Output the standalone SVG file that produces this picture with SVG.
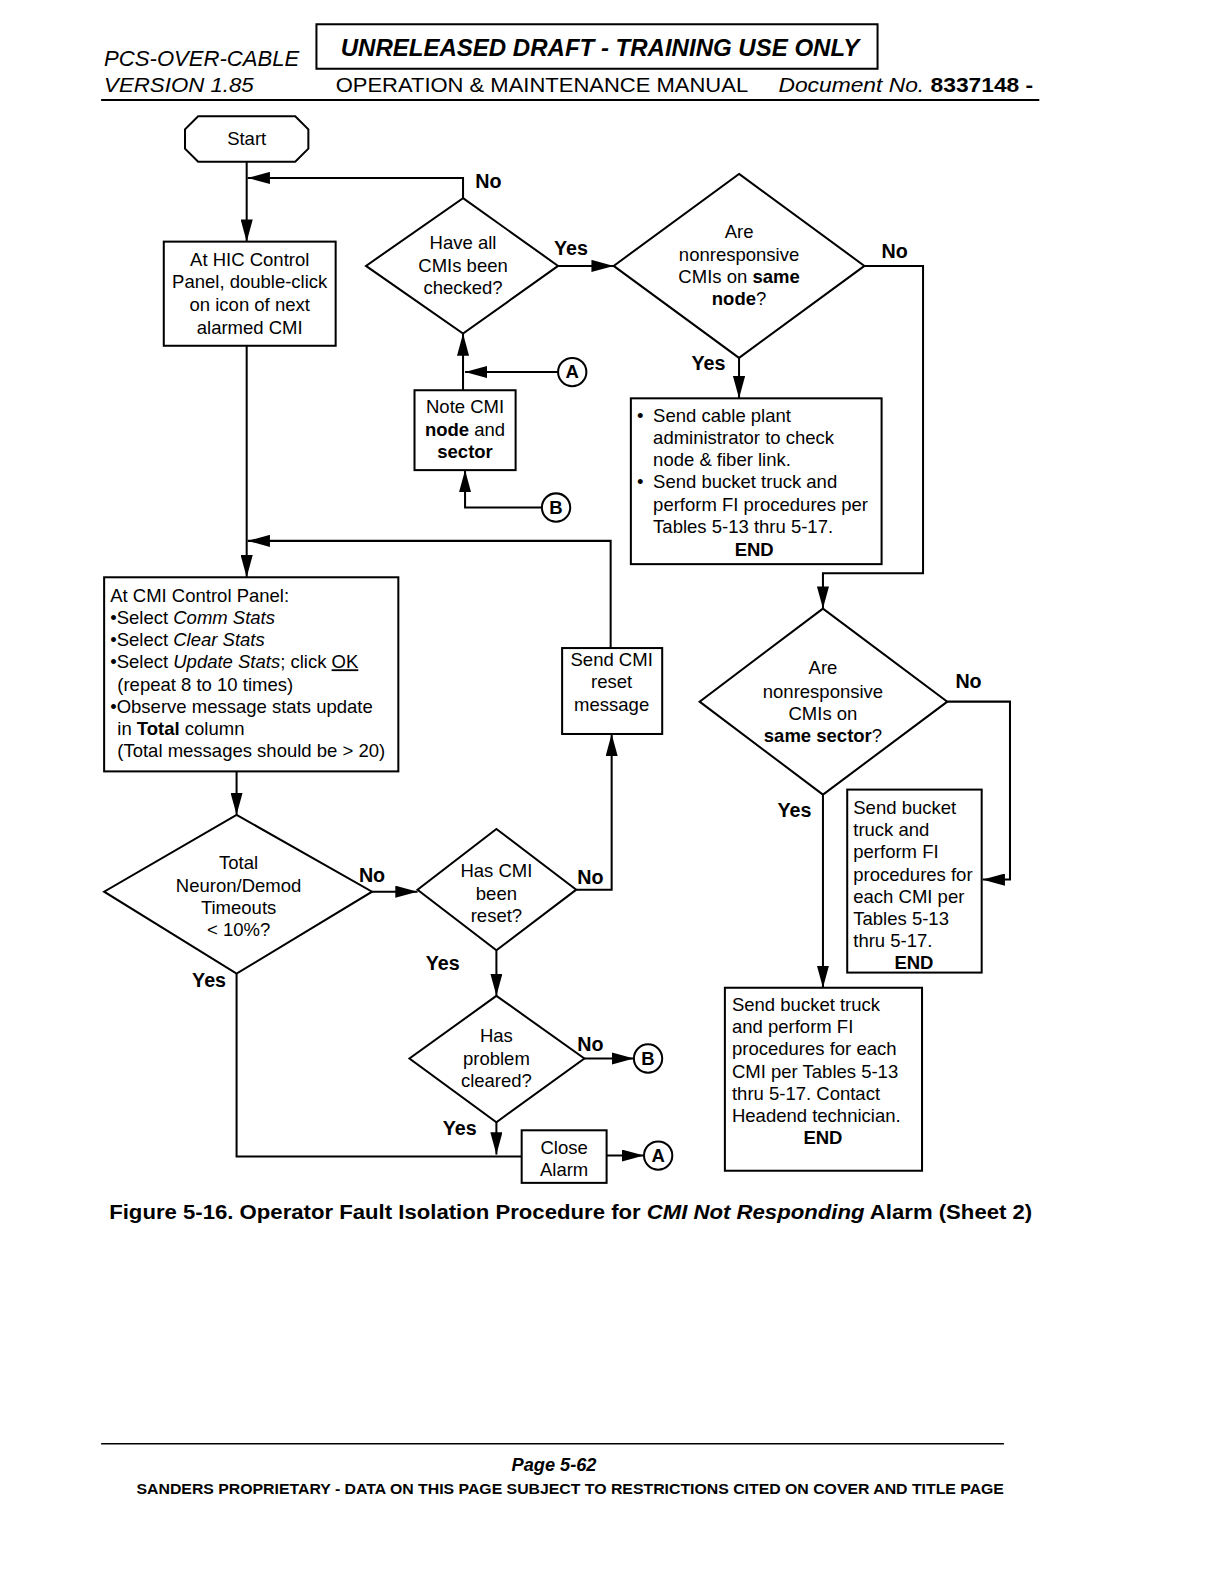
<svg xmlns="http://www.w3.org/2000/svg" width="1221" height="1584" viewBox="0 0 1221 1584">
<style>
text{font-family:"Liberation Sans",Arial,sans-serif;fill:#000}
.t{font-size:18.3px}
.c{text-anchor:middle}
.b{font-weight:bold}
.i{font-style:italic}
.lbl{font-size:19.5px;font-weight:bold}
.shape{fill:#fff;stroke:#000;stroke-width:2}
.ln{fill:none;stroke:#000;stroke-width:2}
</style>
<defs>
<marker id="ah" viewBox="0 0 22 12" refX="22" refY="6" markerWidth="22" markerHeight="12" orient="auto" markerUnits="userSpaceOnUse"><path d="M0,0 L22,6 L0,12 z" fill="#000"/></marker>
</defs>
<rect width="1221" height="1584" fill="#fff"/>
<g transform="scale(1.011)">
<g id="header">
<text x="103" y="65" class="i" font-size="21" textLength="193" lengthAdjust="spacingAndGlyphs">PCS-OVER-CABLE</text>
<rect x="313" y="24" width="555" height="44" class="shape"/>
<text x="337" y="55" class="b i" font-size="23" textLength="513" lengthAdjust="spacingAndGlyphs">UNRELEASED DRAFT - TRAINING USE ONLY</text>
<text x="103" y="91" class="i" font-size="20" textLength="148" lengthAdjust="spacingAndGlyphs">VERSION 1.85</text>
<text x="332" y="91" font-size="20" textLength="408" lengthAdjust="spacingAndGlyphs">OPERATION &amp; MAINTENANCE MANUAL</text>
<text x="770" y="91" font-size="20" textLength="252" lengthAdjust="spacingAndGlyphs"><tspan class="i">Document No. </tspan><tspan class="b">8337148 -</tspan></text>
<line x1="100" y1="99" x2="1028" y2="99" class="ln"/>
</g>

<g id="connectors">
<path d="M244,160 V239" class="ln" marker-end="url(#ah)"/>
<path d="M458,197 V176 H245" class="ln" marker-end="url(#ah)"/>
<path d="M244,342 V571" class="ln" marker-end="url(#ah)"/>
<path d="M552,263 H607" class="ln" marker-end="url(#ah)"/>
<path d="M855,263 H913 V567 H814 V602" class="ln" marker-end="url(#ah)"/>
<path d="M731,354 V394" class="ln" marker-end="url(#ah)"/>
<path d="M458,386 V330" class="ln" marker-end="url(#ah)"/>
<path d="M552,368 H460" class="ln" marker-end="url(#ah)"/>
<path d="M536,502 H460 V465" class="ln" marker-end="url(#ah)"/>
<path d="M604,641 V535 H245" class="ln" marker-end="url(#ah)"/>
<path d="M234,763 V806" class="ln" marker-end="url(#ah)"/>
<path d="M368,882 H413" class="ln" marker-end="url(#ah)"/>
<path d="M570,880 H605 V726" class="ln" marker-end="url(#ah)"/>
<path d="M491,940 V985" class="ln" marker-end="url(#ah)"/>
<path d="M578,1047 H627" class="ln" marker-end="url(#ah)"/>
<path d="M491,1110 V1142" class="ln" marker-end="url(#ah)"/>
<path d="M234,963 V1144 H516" class="ln"/>
<path d="M600,1143 H637" class="ln" marker-end="url(#ah)"/>
<path d="M937,694 H999 V870 H972" class="ln" marker-end="url(#ah)"/>
<path d="M814,786 V977" class="ln" marker-end="url(#ah)"/>
<text x="470" y="186" class="lbl">No</text>
<text x="548" y="252" class="lbl">Yes</text>
<text x="872" y="255" class="lbl">No</text>
<text x="684" y="366" class="lbl">Yes</text>
<text x="355" y="872" class="lbl">No</text>
<text x="571" y="874" class="lbl">No</text>
<text x="421" y="959" class="lbl">Yes</text>
<text x="190" y="976" class="lbl">Yes</text>
<text x="571" y="1040" class="lbl">No</text>
<text x="438" y="1123" class="lbl">Yes</text>
<text x="945" y="681" class="lbl">No</text>
<text x="769" y="808" class="lbl">Yes</text>
</g>

<g id="start">
<path d="M196,115 H292 L305,128 V147 L292,160 H196 L183,147 V128 Z" class="shape"/>
<text x="244" y="143" class="t c">Start</text>
</g>

<g id="hic">
<rect x="162" y="239" width="170" height="103" class="shape"/>
<text class="t c"><tspan x="247" y="263">At HIC Control</tspan><tspan x="247" y="285">Panel, double-click</tspan><tspan x="247" y="308">on icon of next</tspan><tspan x="247" y="330">alarmed CMI</tspan></text>
</g>

<g id="d-checked">
<path d="M458,196 L552,263 L458,330 L362,263 Z" class="shape"/>
<text class="t c"><tspan x="458" y="246">Have all</tspan><tspan x="458" y="269">CMIs been</tspan><tspan x="458" y="291">checked?</tspan></text>
</g>

<g id="d-node">
<path d="M731,172 L855,263 L731,354 L607,263 Z" class="shape"/>
<text class="t c"><tspan x="731" y="235">Are</tspan><tspan x="731" y="258">nonresponsive</tspan><tspan x="731" y="280">CMIs on <tspan class="b">same</tspan></tspan><tspan x="731" y="302"><tspan class="b">node</tspan>?</tspan></text>
</g>

<g id="cable-plant">
<rect x="624" y="394" width="248" height="164" class="shape"/>
<text class="t"><tspan x="630" y="417">•</tspan><tspan x="646" y="417">Send cable plant</tspan><tspan x="646" y="439">administrator to check</tspan><tspan x="646" y="461">node &amp; fiber link.</tspan><tspan x="630" y="483">•</tspan><tspan x="646" y="483">Send bucket truck and</tspan><tspan x="646" y="505">perform FI procedures per</tspan><tspan x="646" y="527">Tables 5-13 thru 5-17.</tspan></text>
<text x="746" y="550" class="t c b">END</text>
</g>

<g id="note">
<rect x="410" y="386" width="100" height="79" class="shape"/>
<text class="t c"><tspan x="460" y="409">Note CMI</tspan><tspan x="460" y="431"><tspan class="b">node</tspan> and</tspan><tspan x="460" y="453" class="b">sector</tspan></text>
</g>

<g id="conn-a1">
<circle cx="566" cy="368" r="14" class="shape"/>
<text x="566" y="374" class="t c b" font-size="16">A</text>
</g>
<g id="conn-b1">
<circle cx="550" cy="502" r="14" class="shape"/>
<text x="550" y="508" class="t c b" font-size="16">B</text>
</g>

<g id="cmi-panel">
<rect x="103" y="571" width="291" height="192" class="shape"/>
<text class="t"><tspan x="109" y="595">At CMI Control Panel:</tspan><tspan x="109" y="617">•Select <tspan class="i">Comm Stats</tspan></tspan><tspan x="109" y="639">•Select <tspan class="i">Clear Stats</tspan></tspan><tspan x="109" y="661">•Select <tspan class="i">Update Stats</tspan>; click <tspan text-decoration="underline">OK</tspan></tspan><tspan x="116" y="683">(repeat 8 to 10 times)</tspan><tspan x="109" y="705">•Observe message stats update</tspan><tspan x="116" y="727">in <tspan class="b">Total</tspan> column</tspan><tspan x="116" y="749">(Total messages should be &gt; 20)</tspan></text>
</g>

<g id="send-reset">
<rect x="556" y="641" width="99" height="85" class="shape"/>
<text class="t c"><tspan x="605" y="659">Send CMI</tspan><tspan x="605" y="681">reset</tspan><tspan x="605" y="703">message</tspan></text>
</g>

<g id="d-timeouts">
<path d="M234,806 L368,882 L234,963 L103,882 Z" class="shape"/>
<text class="t c"><tspan x="236" y="860">Total</tspan><tspan x="236" y="882">Neuron/Demod</tspan><tspan x="236" y="904">Timeouts</tspan><tspan x="236" y="926">&lt; 10%?</tspan></text>
</g>

<g id="d-reset">
<path d="M491,820 L570,880 L491,940 L413,880 Z" class="shape"/>
<text class="t c"><tspan x="491" y="867">Has CMI</tspan><tspan x="491" y="890">been</tspan><tspan x="491" y="912">reset?</tspan></text>
</g>

<g id="d-cleared">
<path d="M491,985 L578,1047 L491,1110 L405,1047 Z" class="shape"/>
<text class="t c"><tspan x="491" y="1031">Has</tspan><tspan x="491" y="1053">problem</tspan><tspan x="491" y="1075">cleared?</tspan></text>
</g>

<g id="conn-b2">
<circle cx="641" cy="1047" r="14" class="shape"/>
<text x="641" y="1053" class="t c b" font-size="16">B</text>
</g>

<g id="close-alarm">
<rect x="516" y="1118" width="84" height="52" class="shape"/>
<text class="t c"><tspan x="558" y="1141">Close</tspan><tspan x="558" y="1163">Alarm</tspan></text>
</g>

<g id="conn-a2">
<circle cx="651" cy="1143" r="14" class="shape"/>
<text x="651" y="1149" class="t c b" font-size="16">A</text>
</g>

<g id="d-sector">
<path d="M814,602 L937,694 L814,786 L692,694 Z" class="shape"/>
<text class="t c"><tspan x="814" y="667">Are</tspan><tspan x="814" y="690">nonresponsive</tspan><tspan x="814" y="712">CMIs on</tspan><tspan x="814" y="734"><tspan class="b">same sector</tspan>?</tspan></text>
</g>

<g id="bucket-each">
<rect x="838" y="781" width="133" height="181" class="shape"/>
<text class="t"><tspan x="844" y="805">Send bucket</tspan><tspan x="844" y="827">truck and</tspan><tspan x="844" y="849">perform FI</tspan><tspan x="844" y="871">procedures for</tspan><tspan x="844" y="893">each CMI per</tspan><tspan x="844" y="915">Tables 5-13</tspan><tspan x="844" y="937">thru 5-17.</tspan></text>
<text x="904" y="958" class="t c b">END</text>
</g>

<g id="bucket-headend">
<rect x="717" y="977" width="195" height="181" class="shape"/>
<text class="t"><tspan x="724" y="1000">Send bucket truck</tspan><tspan x="724" y="1022">and perform FI</tspan><tspan x="724" y="1044">procedures for each</tspan><tspan x="724" y="1066">CMI per Tables 5-13</tspan><tspan x="724" y="1088">thru 5-17. Contact</tspan><tspan x="724" y="1110">Headend technician.</tspan></text>
<text x="814" y="1132" class="t c b">END</text>
</g>

<g id="caption">
<text x="108" y="1206" class="b" font-size="19.5" textLength="913" lengthAdjust="spacingAndGlyphs">Figure 5-16.  Operator Fault Isolation Procedure for <tspan class="i">CMI Not Responding</tspan> Alarm (Sheet 2)</text>
</g>

<g id="footer">
<line x1="100" y1="1428" x2="993" y2="1428" stroke="#000" stroke-width="1.5"/>
<text x="548" y="1455" class="b i c" font-size="18">Page 5-62</text>
<text x="135" y="1478" class="b" font-size="14.5" textLength="858" lengthAdjust="spacingAndGlyphs">SANDERS PROPRIETARY - DATA ON THIS PAGE SUBJECT TO RESTRICTIONS CITED ON COVER AND TITLE PAGE</text>
</g>
</g>
</svg>
